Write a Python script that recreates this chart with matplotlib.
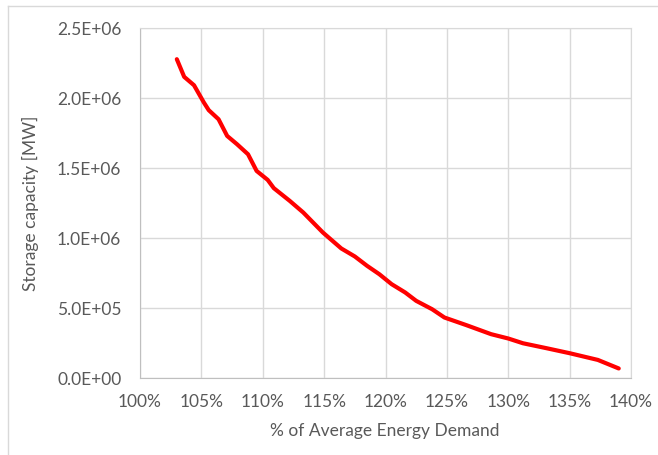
import matplotlib.pyplot as plt
from matplotlib.lines import Line2D
from matplotlib.ticker import FuncFormatter

demand_pct = [103.0, 103.6, 104.4, 105.2, 105.6, 106.4, 107.1, 107.9, 108.8, 109.5,
              110.4, 110.9, 112.2, 113.3, 114.9, 116.4, 117.5, 118.5, 119.5, 120.5,
              121.6, 122.5, 123.8, 124.8, 126.6, 128.6, 130.0, 131.2, 133.1, 135.0,
              137.3, 139.0]
storage_mw = [2.275e6, 2.149e6, 2.089e6, 1.966e6, 1.911e6, 1.846e6, 1.727e6, 1.668e6,
              1.596e6, 1.477e6, 1.413e6, 1.354e6, 1.263e6, 1.180e6, 1.037e6, 0.923e6,
              0.866e6, 0.799e6, 0.739e6, 0.668e6, 0.609e6, 0.549e6, 0.489e6, 0.430e6,
              0.375e6, 0.311e6, 0.280e6, 0.246e6, 0.211e6, 0.175e6, 0.127e6, 0.066e6]

x_ticks = [100, 105, 110, 115, 120, 125, 130, 135, 140]
y_ticks = [0, 5e5, 1e6, 1.5e6, 2e6, 2.5e6]

txt = '#595959'
plt.rcParams['font.family'] = ['Lato', 'DejaVu Sans']

fig = plt.figure(figsize=(6.58, 4.56), dpi=100)
ax = fig.add_axes([140/658, 1 - 378.7/456, 491/658, 350/456])

ax.plot(demand_pct, storage_mw, color='#ff0000', lw=3, solid_capstyle='round',
        solid_joinstyle='round')

ax.set_xlim(100, 140)
ax.set_ylim(0, 2.5e6)
ax.set_xticks(x_ticks)
ax.set_yticks(y_ticks)
ax.xaxis.set_major_formatter(FuncFormatter(lambda v, p: '%d%%' % v))
ax.yaxis.set_major_formatter(FuncFormatter(lambda v, p: '%.1E' % v))
ax.grid(color='#d9d9d9', lw=1)
ax.set_axisbelow(True)
for s in ['top', 'right']:
    ax.spines[s].set_color('#d9d9d9')
for s in ['left', 'bottom']:
    ax.spines[s].set_color('#bfbfbf')
ax.tick_params(length=0, colors=txt, labelsize=12.5)
ax.tick_params(axis='y', pad=13.5)
ax.tick_params(axis='x', pad=11)

fig.text(385/658, 1 - 431/456, '% of Average Energy Demand', color=txt, fontsize=12.5,
         ha='center', va='center')
fig.text(30/658, 1 - 203/456, 'Storage capacity [MW]', color=txt, fontsize=12.5,
         ha='center', va='center', rotation=90)

# outer chart border
fig.add_artist(Line2D([7.5/658, 7.5/658], [0, 1 - 6.5/456], color='#d9d9d9', lw=1))
fig.add_artist(Line2D([7.5/658, 1], [1 - 6.5/456, 1 - 6.5/456], color='#d9d9d9', lw=1))

fig.savefig('out.png', dpi=100)
